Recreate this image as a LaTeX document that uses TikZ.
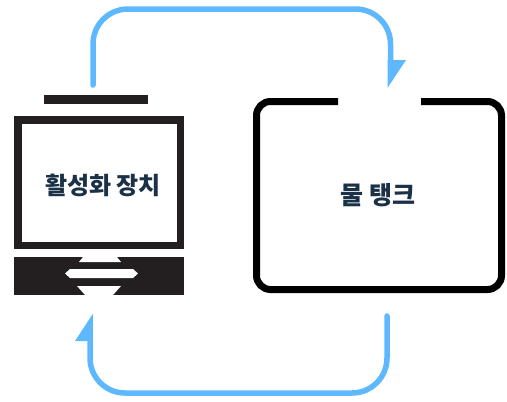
\documentclass[tikz,border=0pt]{standalone}
\usepackage{fontspec}
\newfontfamily\kr{Noto Sans CJK KR}
\definecolor{ink}{HTML}{231F20}
\definecolor{navy}{HTML}{1B3147}
\definecolor{flow}{HTML}{5DB8FF}
\tikzset{
  flowline/.style={draw=flow, line width=5.5pt, line cap=round, rounded corners=35pt},
  flowtip/.style={fill=flow},
  label/.style={font=\kr\bfseries, text=navy},
}
\begin{document}
\begin{tikzpicture}[x=1pt,y=-1pt]
\useasboundingbox (0,0) rectangle (507,402);
% activation device
\fill[ink] (44,95) rectangle (148,104);
\draw[ink, line width=7.5pt] (17.75,119.75) rectangle (180.25,245.25);
\node[label, font=\kr\bfseries\fontsize{24}{26}\selectfont] (dev) at (103,185) {활성화 장치};
\fill[ink] (14,257) rectangle (184,295);
\fill[white] (83,257) -- (117,257) -- (121,262) -- (79,262) -- cycle;
\fill[white] (65,273.5) -- (70,269) -- (133,269) -- (138,273.5) -- (133,278) -- (70,278) -- cycle;
\fill[white] (77,286) -- (121,286) -- (113,295) -- (85,295) -- cycle;
% water tank
\draw[black, line width=7pt, rounded corners=14pt]
  (338,101.5) -- (256.5,101.5) -- (256.5,289.5) -- (501.5,289.5) -- (501.5,101.5) -- (421,101.5);
\node[label, font=\kr\bfseries\fontsize{25}{27}\selectfont] (tank) at (378,195) {물 탱크};
% flows
\coordinate (a1) at (93,85);
\coordinate (a2) at (390.5,62);
\coordinate (b1) at (387,316);
\coordinate (b2) at (90,340);
\draw[flowline] (a1) -- (93,9) -- (390.5,9) -- (a2);
\fill[flowtip] (387.5,60) -- (406,60) -- (387.5,88) -- cycle;
\draw[flowline] (b1) -- (387,393) -- (90,393) -- (b2);
\fill[flowtip] (92.75,314) -- (75,341) -- (92.75,341) -- cycle;
\end{tikzpicture}
\end{document}
